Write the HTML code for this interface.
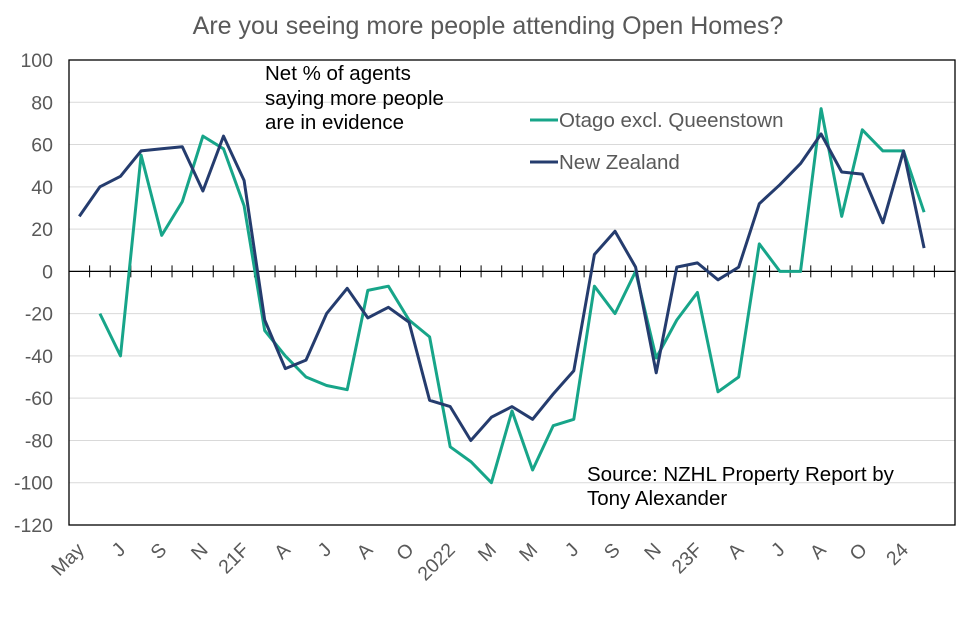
<!DOCTYPE html>
<html><head><meta charset="utf-8"><style>
body{margin:0;background:#fff;}
svg text{font-family:"Liberation Sans",Arial,sans-serif;}
</style></head><body>
<svg id="chart" width="976" height="637" viewBox="0 0 976 637">
<text x="488" y="34" text-anchor="middle" font-size="25" fill="#595959">Are you seeing more people attending Open Homes?</text>
<g id="grid"></g><g id="axes"></g><g id="series"></g>
<text x="265" y="80" font-size="20.5" fill="#000">Net % of agents</text>
<text x="265" y="105" font-size="20.5" fill="#000">saying more people</text>
<text x="265" y="129" font-size="20.5" fill="#000">are in evidence</text>
<text x="587" y="481" font-size="20.5" fill="#000">Source: NZHL Property Report by</text>
<text x="587" y="505" font-size="20.5" fill="#000">Tony Alexander</text>
<g>
<line x1="530" y1="120" x2="558" y2="120" stroke="#17a589" stroke-width="3"/>
<text x="559" y="127" font-size="20.5" fill="#595959">Otago excl. Queenstown</text>
<line x1="530" y1="162" x2="558" y2="162" stroke="#253c6e" stroke-width="3"/>
<text x="559" y="169" font-size="20.5" fill="#595959">New Zealand</text>
</g>
</svg>
<script>
const categoryLabels=["May","J","S","N","21F","A","J","A","O","2022","M","M","J","S","N","23F","A","J","A","O","24"];
const yTicks=[100,80,60,40,20,0,-20,-40,-60,-80,-100,-120];
const nzValues=[26,40,45,57,58,59,38,64,43,-23,-46,-42,-20,-8,-22,-17,-24,-61,-64,-80,-69,-64,-70,-58,-47,8,19,2,-48,2,4,-4,2,32,41,51,65,47,46,23,57,11];
const otagoValues=[null,-20,-40,55,17,33,64,58,31,-28,-40,-50,-54,-56,-9,-7,-23,-31,-83,-90,-100,-66,-94,-73,-70,-7,-20,0,-41,-23,-10,-57,-50,13,0,0,77,26,67,57,57,28];
const NCAT=43;
const L=69,R=955,T=60,B=525;
const yMin=-120,yMax=100;
const ns="http://www.w3.org/2000/svg";
const step=(R-L)/NCAT;
function xPos(i){return L+(i+0.5)*step;}
function yPos(v){return T+(yMax-v)/(yMax-yMin)*(B-T);}
function mk(tag,attrs,parent){const e=document.createElementNS(ns,tag);for(const k in attrs)e.setAttribute(k,attrs[k]);parent.appendChild(e);return e;}
const grid=document.getElementById('grid'),axes=document.getElementById('axes'),series=document.getElementById('series');
yTicks.forEach(v=>{
  if(v!==0&&v!==yMax&&v!==yMin){const g=mk('line',{x1:L,x2:R,y1:yPos(v),y2:yPos(v),stroke:'#d9d9d9','stroke-width':1},grid);
  
  }
  const t=mk('text',{x:L-16,y:yPos(v)+7,'text-anchor':'end','font-size':19.5,fill:'#595959'},axes);
  t.textContent=v;
  
  
});
const frame=mk('rect',{x:L,y:T,width:R-L,height:B-T,fill:'none',stroke:'#000','stroke-width':1.3},axes);


const zl=mk('line',{x1:L,x2:R,y1:yPos(0),y2:yPos(0),stroke:'#000','stroke-width':1.3},axes);


for(let k=1;k<NCAT;k++){const x=L+k*step;const tk=mk('line',{x1:x,x2:x,y1:yPos(0)-6,y2:yPos(0)+6,stroke:'#000','stroke-width':1},axes);

}
categoryLabels.forEach((lab,j)=>{
  const x=xPos(j*2)+6,y=B+26;
  const t=mk('text',{x:x,y:y,'text-anchor':'end','font-size':19.5,fill:'#595959',transform:`rotate(-45 ${x} ${y})`},axes);
  t.textContent=lab;
  
  
});
function drawLine(vals,color,name){
  let d='',pen=false;
  vals.forEach((v,i)=>{if(v===null){pen=false;return;}d+=(pen?'L':'M')+xPos(i).toFixed(1)+' '+yPos(v).toFixed(1)+' ';pen=true;});
  const p=mk('path',{d:d,fill:'none',stroke:color,'stroke-width':3,'stroke-linejoin':'round'},series);
  
  
}
drawLine(otagoValues,'#17a589','otago-line');
drawLine(nzValues,'#253c6e','new-zealand-line');
</script>
</body></html>
